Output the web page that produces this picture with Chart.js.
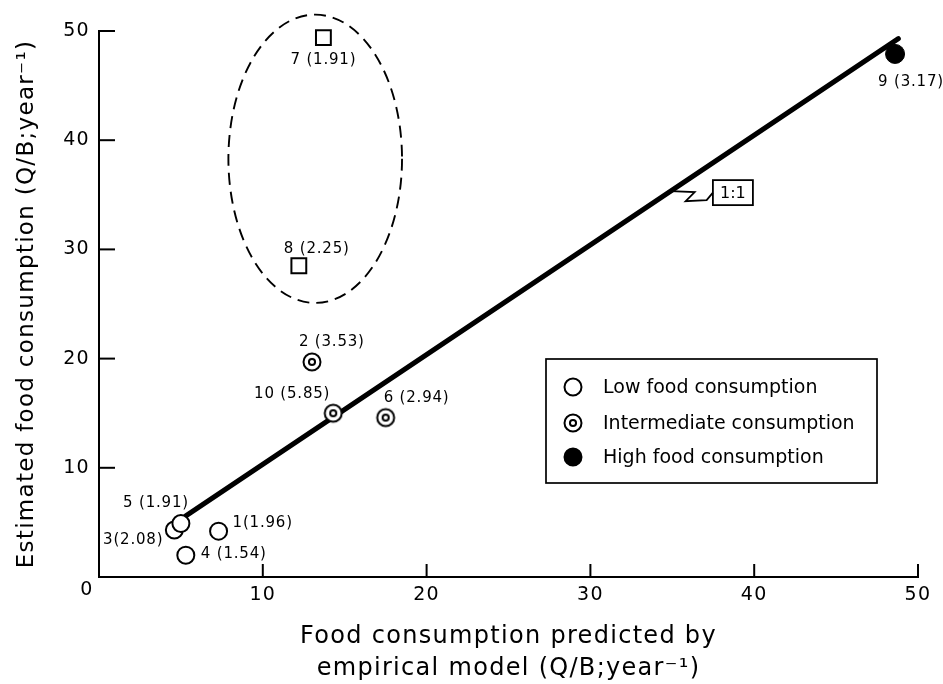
<!DOCTYPE html>
<html>
<head>
<meta charset="utf-8">
<title>Food consumption: estimated vs predicted</title>
<script src="https://cdn.jsdelivr.net/npm/chart.js@4/dist/chart.umd.min.js"></script>
<style>
  html, body { margin: 0; padding: 0; background: #fff; }
</style>
</head>
<body>
<canvas id="chart" width="943" height="684"></canvas>
<script>
// axis ticks
const xTicks = [0, 10, 20, 30, 40, 50];
const yTicks = [0, 10, 20, 30, 40, 50];

// low food consumption sites
const lowIds = [1, 3, 4, 5];
const lowPredicted = [7.3, 4.6, 5.3, 5.0];
const lowEstimated = [4.2, 4.3, 2.0, 4.9];
const lowRatio = ['1.96', '2.08', '1.54', '1.91'];

// intermediate consumption sites
const midIds = [2, 6, 10];
const midPredicted = [13.0, 17.5, 14.3];
const midEstimated = [19.7, 14.6, 15.0];
const midRatio = ['3.53', '2.94', '5.85'];

// high food consumption sites
const highIds = [9];
const highPredicted = [48.6];
const highEstimated = [47.9];
const highRatio = ['3.17'];

// the two outliers circled by the dashed ellipse
const outIds = [7, 8];
const outPredicted = [13.7, 12.2];
const outEstimated = [49.4, 28.5];
const outRatio = ['1.91', '2.25'];

// 1:1 line
const linePredicted = [5.3, 48.8];
const lineEstimated = [5.6, 49.3];

// dashed ellipse round the outliers (data units)
const ellipseCentre = [13.2, 38.3];
const ellipseRadius = [5.3, 13.2];

// "1:1" tag: where it hooks onto the line and where the box sits
const tagHookX = 34.9;
const tagBox = [38.7, 35.2];

// label placement next to each marker: dx, dy (px), text align, gap after id
const labelPlace = {
  1: [14, -8, 'left', ''],
  2: [-13, -20, 'left', ' '],
  3: [-11, 10, 'right', ''],
  4: [15, -1, 'left', ' '],
  5: [8, -20, 'right', ' '],
  6: [-2, -19, 'left', ' '],
  7: [0, 23, 'center', ' '],
  8: [-15, -17, 'left', ' '],
  9: [-17, 28, 'left', ' '],
  10: [-3, -19, 'right', ' ']
};

const FONT = "'DejaVu Sans', sans-serif";
Chart.defaults.font.family = FONT;
Chart.defaults.color = '#000';

function pts(xs, ys) {
  return xs.map((x, i) => ({ x: x, y: ys[i] }));
}

// open circle with a small ring inside
function makeBullseye(r) {
  const c = document.createElement('canvas');
  const s = 22;
  c.width = s; c.height = s;
  const g = c.getContext('2d');
  g.lineWidth = 2;
  g.strokeStyle = '#000';
  g.fillStyle = '#fff';
  g.beginPath(); g.arc(s / 2, s / 2, r, 0, Math.PI * 2); g.fill(); g.stroke();
  g.beginPath(); g.arc(s / 2, s / 2, r * 0.36, 0, Math.PI * 2); g.stroke();
  return c;
}
const bullseye = makeBullseye(8.5);

function lineYAt(v) {
  const t = (v - linePredicted[0]) / (linePredicted[1] - linePredicted[0]);
  return lineEstimated[0] + t * (lineEstimated[1] - lineEstimated[0]);
}

const groups = [
  { ids: lowIds, xs: lowPredicted, ys: lowEstimated, r: lowRatio },
  { ids: midIds, xs: midPredicted, ys: midEstimated, r: midRatio },
  { ids: highIds, xs: highPredicted, ys: highEstimated, r: highRatio },
  { ids: outIds, xs: outPredicted, ys: outEstimated, r: outRatio }
];

const decor = {
  id: 'decor',
  beforeDraw(chart) {
    chart.ctx.letterSpacing = '1.3px';
  },
  afterDatasetsDraw(chart) {
    const ctx = chart.ctx;
    const a = chart.chartArea;
    const x = chart.scales.x, y = chart.scales.y;
    ctx.save();
    ctx.letterSpacing = '0px';
    ctx.strokeStyle = '#000';
    ctx.fillStyle = '#000';

    // tick marks pointing into the plot
    ctx.lineWidth = 2;
    xTicks.forEach(v => {
      if (v === 0) return;
      const px = x.getPixelForValue(v);
      ctx.beginPath(); ctx.moveTo(px, a.bottom); ctx.lineTo(px, a.bottom - 13); ctx.stroke();
    });
    yTicks.forEach(v => {
      if (v === 0) return;
      const py = y.getPixelForValue(v);
      ctx.beginPath(); ctx.moveTo(a.left, py); ctx.lineTo(a.left + 16, py); ctx.stroke();
    });

    // shared origin label
    ctx.font = '19px ' + FONT;
    ctx.letterSpacing = '1.3px';
    ctx.textAlign = 'center';
    ctx.textBaseline = 'middle';
    ctx.fillText(String(xTicks[0]), x.getPixelForValue(0) - 12, y.getPixelForValue(0) + 13);
    ctx.letterSpacing = '0px';

    // dashed ellipse
    const cx = x.getPixelForValue(ellipseCentre[0]);
    const cy = y.getPixelForValue(ellipseCentre[1]);
    const rx = x.getPixelForValue(ellipseCentre[0] + ellipseRadius[0]) - cx;
    const ry = cy - y.getPixelForValue(ellipseCentre[1] + ellipseRadius[1]);
    ctx.lineWidth = 1.9;
    ctx.setLineDash([12, 7]);
    ctx.beginPath(); ctx.ellipse(cx, cy, rx, ry, 0, 0, Math.PI * 2); ctx.stroke();
    ctx.setLineDash([]);

    // 1:1 tag with its zigzag lead
    const hx = x.getPixelForValue(tagHookX);
    const hy = y.getPixelForValue(lineYAt(tagHookX));
    const bx = x.getPixelForValue(tagBox[0]);
    const by = y.getPixelForValue(tagBox[1]);
    ctx.lineWidth = 1.8;
    ctx.beginPath();
    ctx.moveTo(hx, hy);
    ctx.lineTo(hx + 24, hy + 1);
    ctx.lineTo(hx + 15, hy + 10);
    ctx.lineTo(hx + 36, hy + 9);
    ctx.lineTo(bx - 20, by);
    ctx.stroke();
    ctx.strokeRect(bx - 20, by - 12.5, 40, 25);
    ctx.font = '16px ' + FONT;
    ctx.textAlign = 'center';
    ctx.fillText('1:1', bx, by + 1);

    // site labels: number (ratio)
    ctx.font = '15px ' + FONT;
    ctx.letterSpacing = '0.8px';
    groups.forEach(g => {
      g.ids.forEach((id, i) => {
        const p = labelPlace[id];
        ctx.textAlign = p[2];
        ctx.fillText(id + p[3] + '(' + g.r[i] + ')',
          x.getPixelForValue(g.xs[i]) + p[0],
          y.getPixelForValue(g.ys[i]) + p[1]);
      });
    });
    ctx.letterSpacing = '0px';

    // legend box
    const L = 546, T = 359, W = 331, H = 124;
    ctx.lineWidth = 1.7;
    ctx.strokeRect(L, T, W, H);
    const rows = [28, 64, 98];
    ctx.font = '19px ' + FONT;
    ctx.textAlign = 'left';
    chart.data.datasets.slice(0, 3).forEach((ds, i) => {
      const my = T + rows[i];
      const mx = L + 27;
      if (ds.pointStyle === bullseye) {
        ctx.drawImage(bullseye, mx - bullseye.width / 2, my - bullseye.height / 2);
      } else {
        ctx.beginPath();
        ctx.arc(mx, my, 8.5, 0, Math.PI * 2);
        ctx.fillStyle = ds.backgroundColor;
        ctx.fill();
        ctx.lineWidth = 2;
        ctx.stroke();
        ctx.fillStyle = '#000';
      }
      ctx.fillText(ds.label, L + 57, my + 1);
    });
    ctx.restore();
  }
};

new Chart(document.getElementById('chart'), {
  type: 'scatter',
  data: {
    datasets: [
      {
        label: 'Low food consumption',
        data: pts(lowPredicted, lowEstimated),
        pointStyle: 'circle', pointRadius: 8.5,
        backgroundColor: '#fff', borderColor: '#000', borderWidth: 2,
        order: 1, clip: false
      },
      {
        label: 'Intermediate consumption',
        data: pts(midPredicted, midEstimated),
        pointStyle: bullseye, pointRadius: 9,
        backgroundColor: '#fff', borderColor: '#000',
        order: 1, clip: false
      },
      {
        label: 'High food consumption',
        data: pts(highPredicted, highEstimated),
        pointStyle: 'circle', pointRadius: 9.5,
        backgroundColor: '#000', borderColor: '#000', borderWidth: 1,
        order: 1, clip: false
      },
      {
        label: 'Outliers',
        data: pts(outPredicted, outEstimated),
        pointStyle: 'rect', pointRadius: 10.5,
        backgroundColor: '#fff', borderColor: '#000', borderWidth: 2,
        order: 1, clip: false
      },
      {
        label: '1:1',
        data: pts(linePredicted, lineEstimated),
        showLine: true, pointRadius: 0,
        borderColor: '#000', borderWidth: 5, borderCapStyle: 'round',
        order: 5, clip: false
      }
    ]
  },
  options: {
    responsive: false,
    animation: false,
    events: [],
    layout: { padding: { top: 31, right: 25, bottom: 0, left: 0 } },
    plugins: {
      legend: { display: false },
      tooltip: { enabled: false }
    },
    scales: {
      x: {
        type: 'linear', position: 'bottom', min: 0, max: 50,
        afterBuildTicks: s => { s.ticks = xTicks.map(v => ({ value: v })); },
        afterFit: s => { s.height = 107; },
        grid: { display: false, drawTicks: false },
        border: { display: true, color: '#000', width: 2 },
        ticks: {
          font: { size: 19 }, padding: 7, maxRotation: 0,
          callback: v => (v === 0 ? '' : v)
        },
        title: {
          display: true,
          text: ['Food consumption predicted by', 'empirical model (Q/B;year\u207B\u00B9)'],
          font: { size: 24, lineHeight: 1.3 },
          padding: { top: 0, bottom: 0 }
        }
      },
      y: {
        type: 'linear', position: 'left', min: 0, max: 50,
        afterBuildTicks: s => { s.ticks = yTicks.map(v => ({ value: v })); },
        afterFit: s => { s.width = 99; },
        grid: { display: false, drawTicks: false },
        border: { display: true, color: '#000', width: 2 },
        ticks: {
          font: { size: 19 }, padding: 9,
          callback: v => (v === 0 ? '' : v)
        },
        title: {
          display: true,
          text: 'Estimated food consumption (Q/B;year\u207B\u00B9)',
          font: { size: 23 },
          padding: { top: 13, bottom: 0 }
        }
      }
    }
  },
  plugins: [decor]
});
</script>
</body>
</html>
